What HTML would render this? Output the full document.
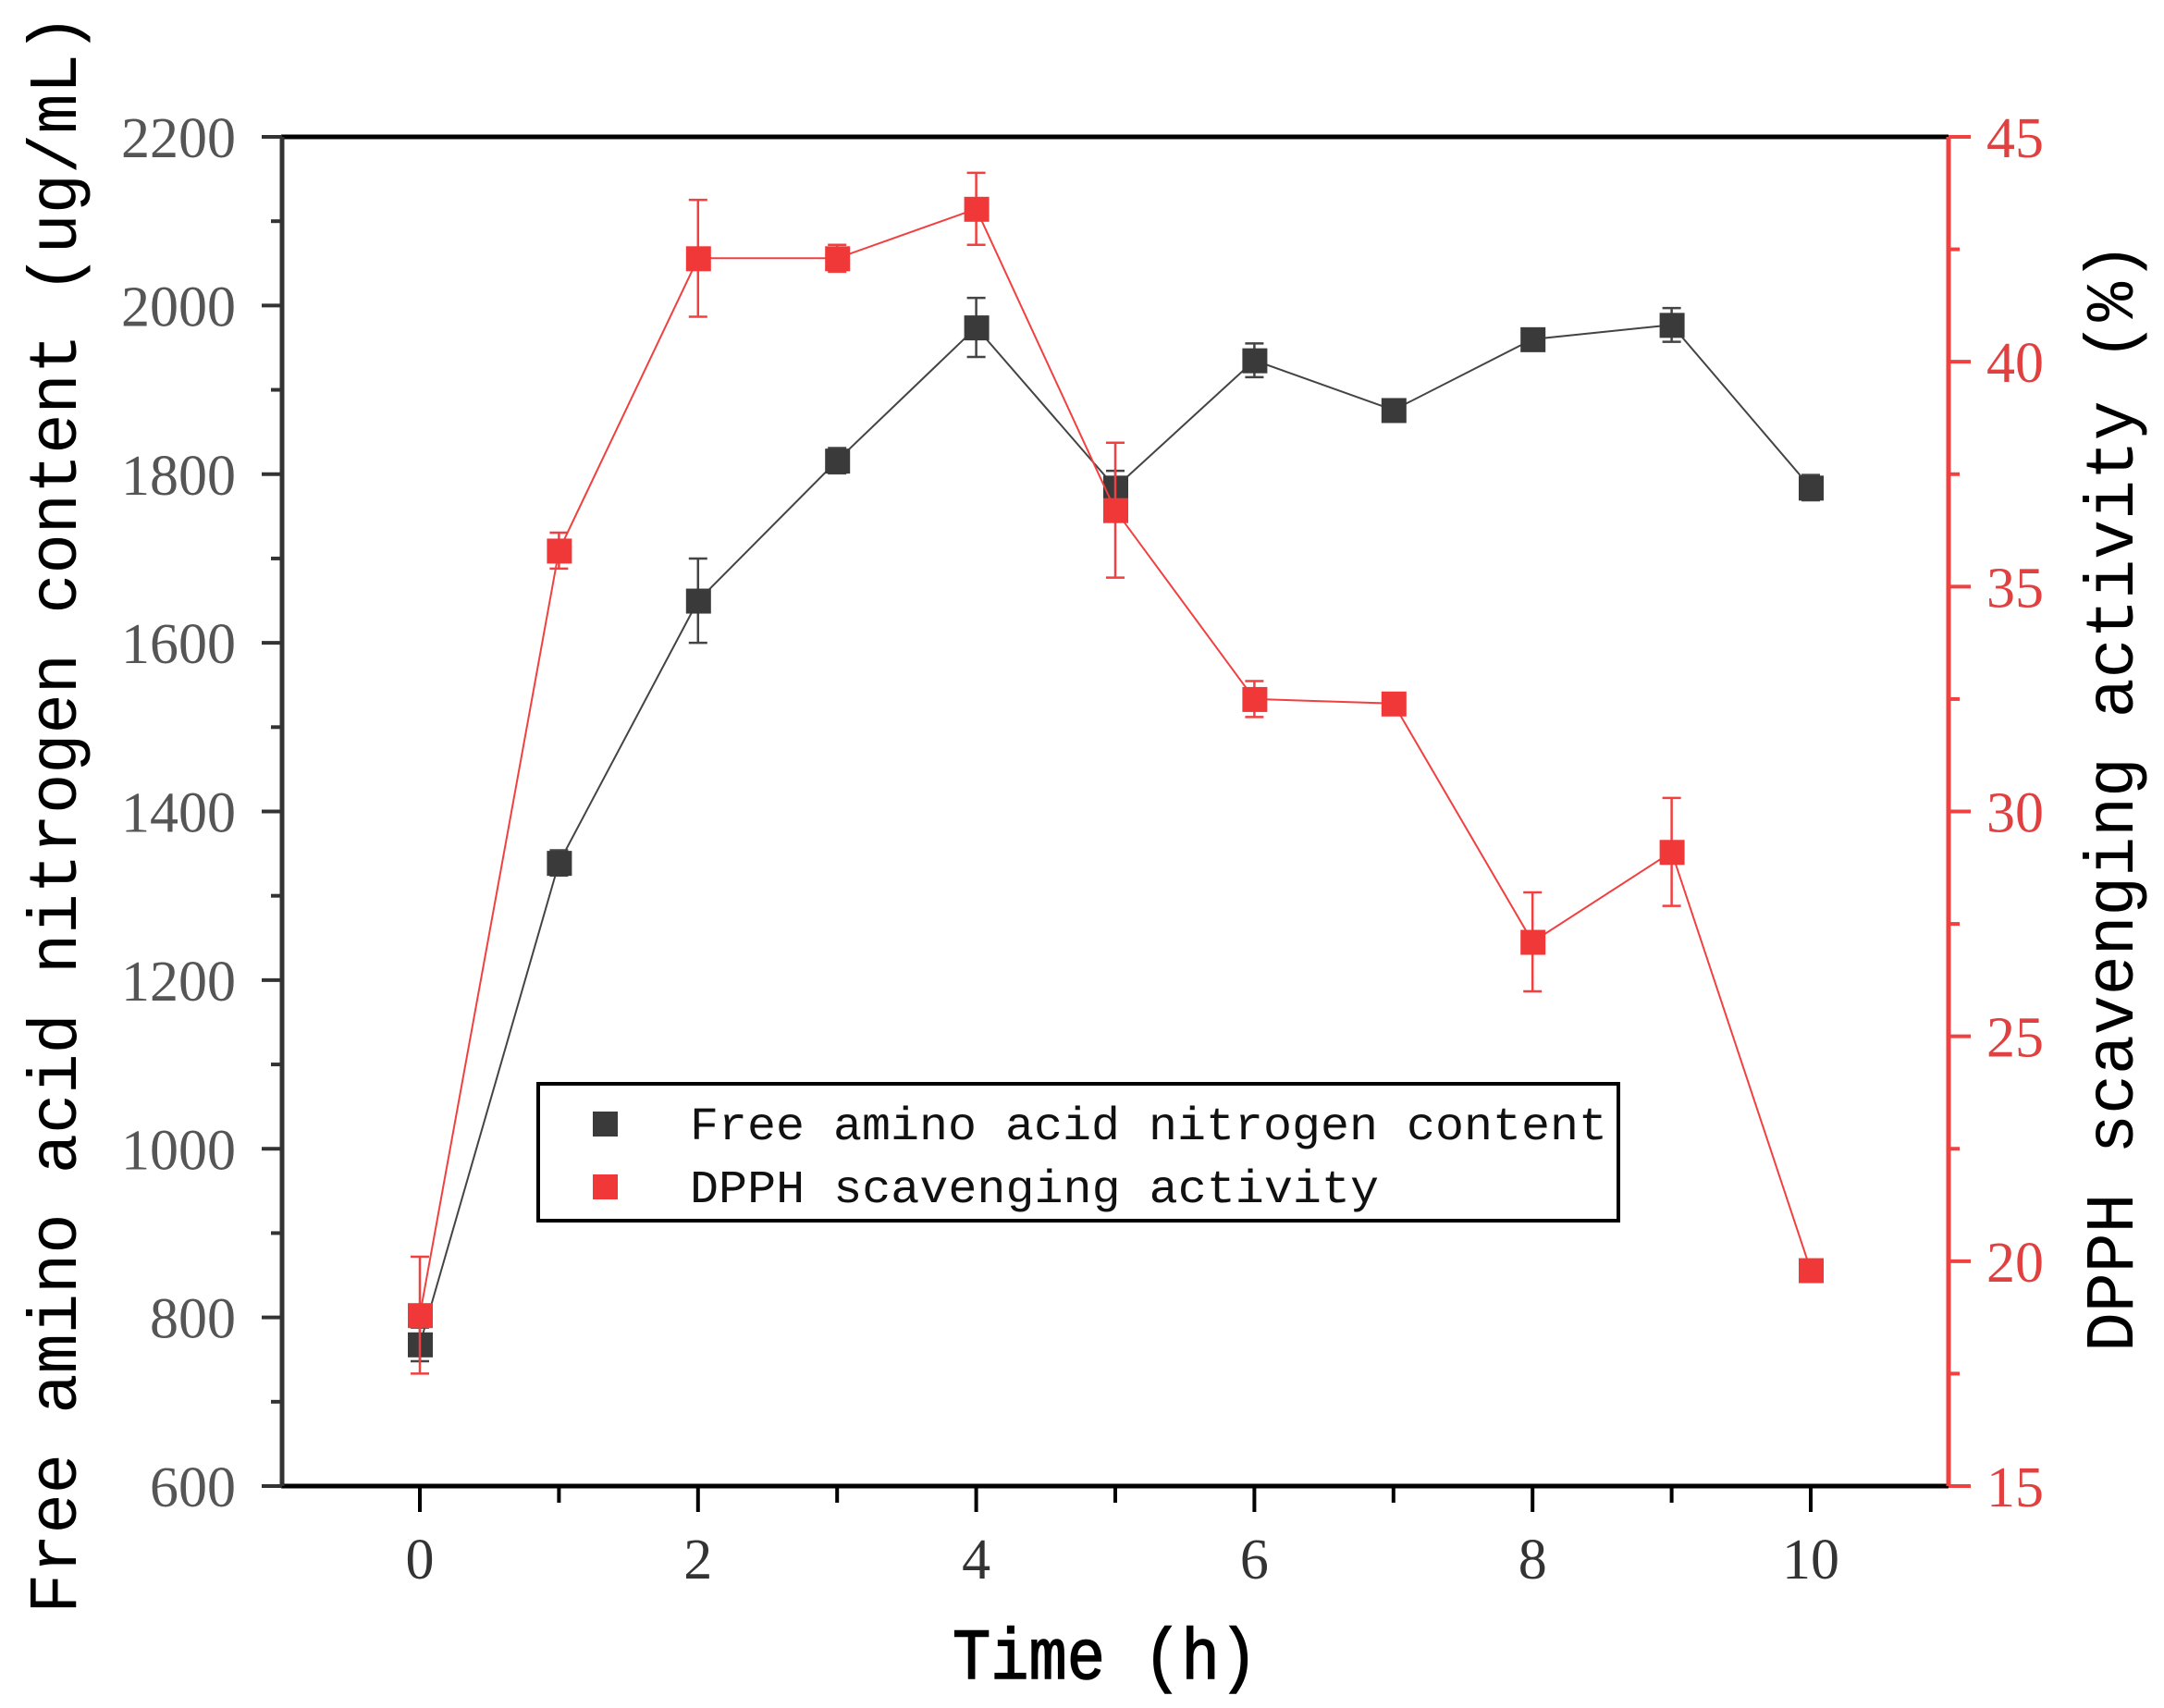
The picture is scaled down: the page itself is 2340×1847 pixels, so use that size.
<!DOCTYPE html>
<html><head><style>
html,body{margin:0;padding:0;background:#fff;}
svg{display:block;}
</style></head><body>
<svg width="2340" height="1847" viewBox="0 0 2340 1847" xmlns="http://www.w3.org/2000/svg">
<rect width="2340" height="1847" fill="#fff"/>
<g id="plot">
<line x1="304" y1="148" x2="2107" y2="148" stroke="#000" stroke-width="5"/>
<line x1="304" y1="1607" x2="2107" y2="1607" stroke="#000" stroke-width="5"/>
<line x1="305" y1="148" x2="305" y2="1607" stroke="#333" stroke-width="5"/>
<line x1="2107" y1="148" x2="2107" y2="1607" stroke="#f04040" stroke-width="5"/>
</g>
<g stroke="#000" stroke-width="4" id="xt"></g>
<g stroke="#333" stroke-width="4" id="yt"></g>
<g stroke="#f04040" stroke-width="4" id="rt"></g>
<g font-family="Liberation Serif, serif" font-size="62" fill="#333" id="xl" text-anchor="middle"></g>
<g font-family="Liberation Serif, serif" font-size="62" fill="#555" id="yl" text-anchor="end"></g>
<g font-family="Liberation Serif, serif" font-size="62" fill="#e04040" id="rl" text-anchor="start"></g>
<g id="series"></g>
<rect x="582" y="1172" width="1168" height="148" fill="#fff" stroke="#000" stroke-width="4"/>
<rect x="641" y="1202" width="27" height="27" fill="#3a3a3a"/>
<rect x="641" y="1270" width="27" height="27" fill="#f03838"/>
<text x="746" y="1232" font-family="Liberation Mono, monospace" font-size="50" fill="#111" textLength="992" lengthAdjust="spacingAndGlyphs">Free amino acid nitrogen content</text>
<text x="746" y="1300" font-family="Liberation Mono, monospace" font-size="50" fill="#111" textLength="745" lengthAdjust="spacingAndGlyphs">DPPH scavenging activity</text>
<text x="1195" y="1815" text-anchor="middle" font-family="Liberation Mono, monospace" font-size="78" fill="#000" stroke="#000" stroke-width="1.5" textLength="330" lengthAdjust="spacingAndGlyphs">Time (h)</text>
<text transform="translate(82,880) rotate(-90)" text-anchor="middle" font-family="Liberation Mono, monospace" font-size="74" fill="#000" textLength="1730" lengthAdjust="spacingAndGlyphs">Free amino acid nitrogen content (ug/mL)</text>
<text transform="translate(2306,862) rotate(-90)" text-anchor="middle" font-family="Liberation Mono, monospace" font-size="74" fill="#000" textLength="1200" lengthAdjust="spacingAndGlyphs">DPPH scavenging activity (%)</text>
<script>
var ns="http://www.w3.org/2000/svg";
function el(p,t,a,txt){var e=document.createElementNS(ns,t);for(var k in a)e.setAttribute(k,a[k]);if(txt!==undefined)e.textContent=txt;document.getElementById(p).appendChild(e);return e;}
function X(t){return 454+t*150.4;}
function YL(v){return 1607-(v-600)/1600*1459;}
function YR(v){return 1607-(v-15)/30*1459;}
for(var t=0;t<=10;t++){var L=t%2==0?28:18;el("xt","line",{x1:X(t),y1:1607,x2:X(t),y2:1607+L});if(t%2==0)el("xl","text",{x:X(t),y:1707},t);}
for(var v=600;v<=2200;v+=100){var L=v%200==0?22:12;el("yt","line",{x1:305,y1:YL(v),x2:305-L,y2:YL(v)});if(v%200==0)el("yl","text",{x:255,y:YL(v)+22},v);}
for(var v=15;v<=45;v+=2.5){var L=(v%5==0)?24:12;el("rt","line",{x1:2107,y1:YR(v),x2:2107+L,y2:YR(v)});if(v%5==0)el("rl","text",{x:2148,y:YR(v)+22},v);}
var b=[[768,20],[1339,15],[1650,50],[1816,15],[1974,35],[1784,20],[1935,20],[1876,8],[1960,10],[1977,20],[1784,15]];
var r=[[18.8,1.3],[35.8,0.4],[42.3,1.3],[42.3,0.3],[43.4,0.8],[36.7,1.5],[32.5,0.4],[32.4,0.1],[27.1,1.1],[29.1,1.2],[19.8,0.2]];
function series(d,Y,col,mk){var pts=d.map(function(p,i){return X(i)+","+Y(p[0]);}).join(" ");
el("series","polyline",{points:pts,fill:"none",stroke:col,"stroke-width":2});
d.forEach(function(p,i){var x=X(i),y1=Y(p[0]+p[1]),y2=Y(p[0]-p[1]);el("series","line",{x1:x,y1:y1,x2:x,y2:y2,stroke:col,"stroke-width":2.5});el("series","line",{x1:x-10,y1:y1,x2:x+10,y2:y1,stroke:col,"stroke-width":2.5});el("series","line",{x1:x-10,y1:y2,x2:x+10,y2:y2,stroke:col,"stroke-width":2.5});});
d.forEach(function(p,i){el("series","rect",{x:X(i)-13,y:Y(p[0])-13,width:27,height:27,fill:mk});});}
series(b,YL,"#444","#3a3a3a");
series(r,YR,"#f04040","#f03838");
</script>
</svg>
</body></html>
